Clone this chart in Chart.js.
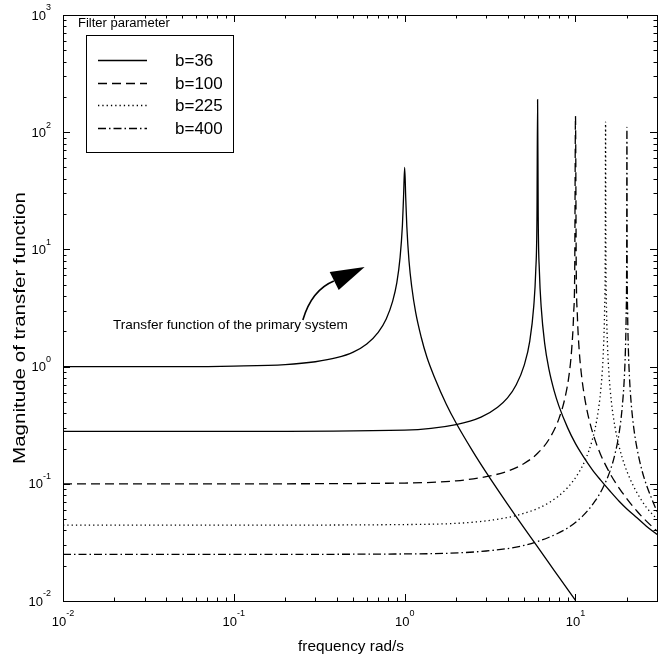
<!DOCTYPE html>
<html>
<head>
<meta charset="utf-8">
<title>Magnitude of transfer function</title>
<script src="https://cdn.jsdelivr.net/npm/chart.js@4.4.0/dist/chart.umd.min.js"></script>
<style>
  html, body { margin: 0; padding: 0; background: #fff; }
  #wrap { width: 667px; height: 658px; }
</style>
</head>
<body>
<div id="wrap"><canvas id="tf"></canvas></div>
<script>
// values (frequency in rad/s, magnitude)
const primaryFreq = [0.01, 0.05, 0.1, 0.2, 0.3, 0.4, 0.5, 0.6, 0.7, 0.78, 0.85, 0.9, 0.94, 0.97, 0.985, 1.0, 1.015, 1.03, 1.06, 1.1, 1.16, 1.25, 1.35, 1.5, 1.75, 2.0, 2.5, 3.0, 4.0, 5.0, 6.0, 7.0, 8.0, 10.0]
const primaryMag = [1.0, 1.0, 1.01, 1.04, 1.1, 1.19, 1.33, 1.56, 1.96, 2.55, 3.6, 5.2, 8.5, 16, 28, 50, 27, 15.5, 8.0, 4.8, 2.9, 1.78, 1.2, 0.8, 0.48, 0.33, 0.19, 0.125, 0.067, 0.042, 0.029, 0.021, 0.016, 0.0101]

const b36Freq = [0.01, 0.1, 1, 2, 2.8, 3.5, 4.0, 4.5, 5.0, 5.4, 5.7, 5.85, 5.95, 6.0, 6.05, 6.15, 6.3, 6.6, 7.0, 7.5, 8.0, 9.0, 10, 11, 12.5, 14, 16, 18, 20, 23, 26, 30]
const b36Mag = [0.28, 0.28, 0.287, 0.32, 0.37, 0.45, 0.54, 0.7, 1.02, 1.65, 3.3, 6.5, 19, 190, 19, 6.4, 3.2, 1.58, 0.94, 0.62, 0.46, 0.3, 0.22, 0.175, 0.133, 0.108, 0.086, 0.071, 0.061, 0.051, 0.0435, 0.037]

const b100Freq = [0.01, 0.1, 1, 2, 3, 4, 5, 6, 7, 8, 8.7, 9.2, 9.5, 9.75, 9.9, 10, 10.1, 10.25, 10.5, 10.8, 11.3, 12, 13, 14, 16, 18, 20, 23, 26, 30]
const b100Mag = [0.1, 0.1, 0.1015, 0.106, 0.115, 0.128, 0.149, 0.182, 0.24, 0.36, 0.55, 0.88, 1.41, 2.8, 7.1, 137, 7.1, 2.8, 1.41, 0.89, 0.55, 0.355, 0.238, 0.179, 0.121, 0.092, 0.0745, 0.058, 0.048, 0.0395]

const b225Freq = [0.01, 0.1, 1, 3, 5, 7, 9, 10.5, 11.5, 12.5, 13.3, 13.9, 14.35, 14.6, 14.8, 14.93, 15, 15.07, 15.2, 15.4, 15.7, 16.2, 17, 18, 19.5, 21, 23, 26, 30]
const b225Mag = [0.0444, 0.0444, 0.0449, 0.0483, 0.056, 0.069, 0.093, 0.126, 0.164, 0.233, 0.345, 0.54, 0.91, 1.49, 3.0, 8.5, 122, 8.6, 3.0, 1.5, 0.87, 0.51, 0.31, 0.208, 0.141, 0.108, 0.083, 0.063, 0.05]

const b400Freq = [0.01, 0.1, 1, 3, 5, 7, 9, 11, 13, 14.5, 16, 17, 18, 18.8, 19.3, 19.6, 19.8, 19.93, 20, 20.07, 20.2, 20.4, 20.7, 21.2, 22, 23, 24.5, 26, 28, 30]
const b400Mag = [0.025, 0.025, 0.0252, 0.0267, 0.0298, 0.035, 0.042, 0.053, 0.071, 0.093, 0.131, 0.178, 0.27, 0.46, 0.79, 1.39, 2.8, 8.0, 110, 8.0, 2.8, 1.4, 0.81, 0.48, 0.29, 0.195, 0.13, 0.098, 0.074, 0.058]

const filterLabels = ["b=36", "b=100", "b=225", "b=400"]
const xTickValues = [0.01, 0.1, 1, 10]
const yTickValues = [0.01, 0.1, 1, 10, 100, 1000]

// annotation anchor points, in data coordinates
const note = {
  text: "Transfer function of the primary system",
  textAt: [0.0196, 2.26],
  arrowFrom: [0.2535, 2.5],
  arrowBend: [0.286, 4.5],
  arrowTo: [0.385, 5.37],
  headA: [0.364, 6.41],
  headB: [0.411, 4.5],
  headTip: [0.583, 7.08],
}

const FONT = '"Liberation Sans", Arial, Helvetica, sans-serif'

function toPoints(freq, mag) {
  return freq.map((f, i) => ({ x: f, y: mag[i] }))
}

function lineSet(label, freq, mag, dash) {
  return {
    label: label,
    data: toPoints(freq, mag),
    showLine: true,
    borderColor: "#000",
    borderWidth: 1.3,
    borderDash: dash,
    pointRadius: 0,
    tension: 0.4,
    cubicInterpolationMode: "monotone",
  }
}

const datasets = [
  lineSet("primary", primaryFreq, primaryMag, []),
  lineSet(filterLabels[0], b36Freq, b36Mag, []),
  lineSet(filterLabels[1], b100Freq, b100Mag, [9, 5]),
  lineSet(filterLabels[2], b225Freq, b225Mag, [1.3, 3]),
  lineSet(filterLabels[3], b400Freq, b400Mag, [8, 3, 1.5, 3]),
]

function fitFont(ctx, text, targetWidth, base) {
  ctx.font = base + "px " + FONT
  const w = ctx.measureText(text).width
  return base * targetWidth / w
}

function expLabel(v) {
  return String(Math.round(Math.log10(v)))
}

// frame, inward ticks, labels, legend and the note
const framePlugin = {
  id: "frame",
  afterDraw(chart) {
    const { ctx, chartArea: a } = chart
    const xs = chart.scales.x
    const ys = chart.scales.y
    ctx.save()
    ctx.strokeStyle = "#000"
    ctx.fillStyle = "#000"
    ctx.lineWidth = 1
    ctx.setLineDash([])
    ctx.strokeRect(a.left + 0.5, a.top + 0.5, a.right - a.left, a.bottom - a.top)

    // log ticks on all four sides
    ctx.beginPath()
    for (let d = -2; d <= 1; d++) {
      for (let m = 1; m <= 9; m++) {
        const v = m * Math.pow(10, d)
        if (v < xs.min || v > xs.max) continue
        const px = Math.round(xs.getPixelForValue(v)) + 0.5
        const len = m === 1 ? 7 : 3.5
        ctx.moveTo(px, a.bottom); ctx.lineTo(px, a.bottom - len)
        ctx.moveTo(px, a.top); ctx.lineTo(px, a.top + len)
      }
    }
    for (let d = -2; d <= 3; d++) {
      for (let m = 1; m <= 9; m++) {
        const v = m * Math.pow(10, d)
        if (v < ys.min || v > ys.max) continue
        const py = Math.round(ys.getPixelForValue(v)) + 0.5
        const len = m === 1 ? 7 : 3.5
        ctx.moveTo(a.left, py); ctx.lineTo(a.left + len, py)
        ctx.moveTo(a.right, py); ctx.lineTo(a.right - len, py)
      }
    }
    ctx.stroke()

    // tick labels 10^n
    ctx.textBaseline = "middle"
    ctx.textAlign = "left"
    xTickValues.forEach((v) => {
      const px = xs.getPixelForValue(v)
      const e = expLabel(v)
      ctx.font = "13px " + FONT
      const bw = ctx.measureText("10").width
      ctx.font = "9px " + FONT
      const ew = ctx.measureText(e).width
      const x0 = px - (bw + ew) / 2
      ctx.font = "13px " + FONT
      ctx.fillText("10", x0, a.bottom + 21)
      ctx.font = "9px " + FONT
      ctx.fillText(e, x0 + bw, a.bottom + 13)
    })
    yTickValues.forEach((v) => {
      const py = ys.getPixelForValue(v)
      const e = expLabel(v)
      ctx.font = "9px " + FONT
      const ew = ctx.measureText(e).width
      const right = a.left - 12
      ctx.fillText(e, right - ew, py - 7)
      ctx.font = "13px " + FONT
      const bw = ctx.measureText("10").width
      ctx.fillText("10", right - ew - bw, py + 1)
    })

    // axis titles
    const xt = "frequency rad/s"
    ctx.font = fitFont(ctx, xt, 106, 14) + "px " + FONT
    ctx.textAlign = "center"
    ctx.fillText(xt, 351, 647)
    const yt = "Magnitude of transfer function"
    ctx.save()
    ctx.translate(21, 328)
    ctx.rotate(-Math.PI / 2)
    ctx.font = "16px " + FONT
    // the original font is a narrow one, so stretch along the text only
    ctx.scale(272 / ctx.measureText(yt).width, 1)
    ctx.fillText(yt, 0, 0)
    ctx.restore()

    // legend
    ctx.fillStyle = "#fff"
    ctx.fillRect(86, 35, 147, 117)
    ctx.strokeRect(86.5, 35.5, 147, 117)
    ctx.fillStyle = "#000"
    ctx.textAlign = "left"
    ctx.font = fitFont(ctx, "Filter parameter", 92, 12) + "px " + FONT
    ctx.fillText("Filter parameter", 78, 23)
    chart.data.datasets.slice(1).forEach((ds, i) => {
      const y = Math.round(60 + i * 22.7) + 0.5
      ctx.beginPath()
      ctx.lineWidth = ds.borderWidth
      ctx.setLineDash(ds.borderDash)
      ctx.moveTo(98, y)
      ctx.lineTo(147, y)
      ctx.stroke()
      ctx.setLineDash([])
      ctx.font = "17px " + FONT
      ctx.fillText(ds.label, 175, y + 1)
    })

    // note with curved arrow
    const P = (p) => [xs.getPixelForValue(p[0]), ys.getPixelForValue(p[1])]
    const t = P(note.textAt)
    ctx.font = fitFont(ctx, note.text, 235, 13) + "px " + FONT
    ctx.fillText(note.text, t[0], t[1])
    const s = P(note.arrowFrom), c = P(note.arrowBend), e = P(note.arrowTo)
    ctx.lineWidth = 1.6
    ctx.beginPath()
    ctx.moveTo(s[0], s[1])
    ctx.quadraticCurveTo(c[0], c[1], e[0], e[1])
    ctx.stroke()
    const h1 = P(note.headA), h2 = P(note.headB), h3 = P(note.headTip)
    ctx.beginPath()
    ctx.moveTo(h1[0], h1[1])
    ctx.lineTo(h2[0], h2[1])
    ctx.lineTo(h3[0], h3[1])
    ctx.closePath()
    ctx.fill()
    ctx.restore()
  },
}

new Chart(document.getElementById("tf"), {
  type: "scatter",
  data: { datasets: datasets },
  options: {
    responsive: true,
    maintainAspectRatio: false,
    animation: false,
    layout: { padding: { top: 15, right: 10, left: 0, bottom: 0 } },
    plugins: {
      legend: { display: false },
      tooltip: { enabled: false },
    },
    scales: {
      x: {
        type: "logarithmic",
        min: 0.01,
        max: 30,
        grid: { display: false },
        border: { display: false },
        ticks: { display: false },
        afterBuildTicks: (s) => { s.ticks = xTickValues.map((v) => ({ value: v })) },
        afterFit: (s) => { s.height = 57 },
      },
      y: {
        type: "logarithmic",
        min: 0.01,
        max: 1000,
        grid: { display: false },
        border: { display: false },
        ticks: { display: false },
        afterBuildTicks: (s) => { s.ticks = yTickValues.map((v) => ({ value: v })) },
        afterFit: (s) => { s.width = 63 },
      },
    },
  },
  plugins: [framePlugin],
})
</script>
</body>
</html>
